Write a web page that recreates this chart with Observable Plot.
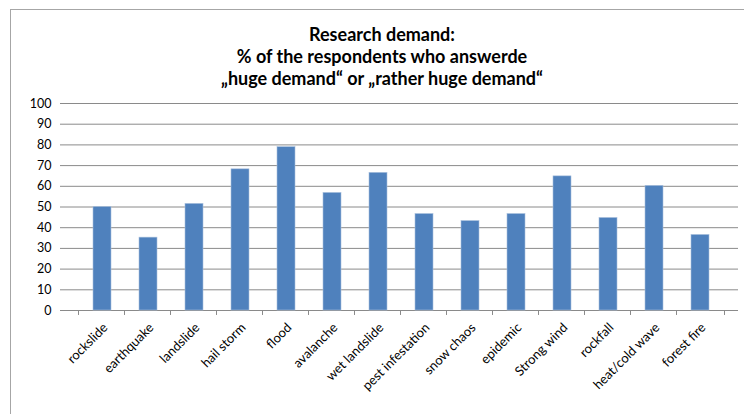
<!DOCTYPE html>
<html>
<head>
<meta charset="utf-8">
<script src="https://cdn.jsdelivr.net/npm/d3@7"></script>
<script src="https://cdn.jsdelivr.net/npm/@observablehq/plot@0.6"></script>
<style>
  html, body { margin: 0; padding: 0; background: #fff; }
  #chart svg { display: block; }
</style>
</head>
<body>
<div id="chart"></div>
<script>
const categories = ["rockslide", "earthquake", "landslide", "hail storm", "flood", "avalanche", "wet landslide", "pest infestation", "snow chaos", "epidemic", "Strong wind", "rockfall", "heat/cold wave", "forest fire"];
const values = [50.0, 35.2, 51.5, 68.2, 78.9, 56.8, 66.5, 46.6, 43.2, 46.6, 64.8, 44.7, 60.2, 36.5];
const yTicks = [0, 10, 20, 30, 40, 50, 60, 70, 80, 90, 100];
const titleLines = ["Research demand:", "% of the respondents who answerde", "\u201Ehuge demand\u201C or \u201Erather huge demand\u201C"];

const data = categories.map((c, i) => ({category: c, value: values[i]}));
const font = "Lato, 'Open Sans', sans-serif";
const titleDy = [-75, -53, -31];

const chart = Plot.plot({
  width: 744,
  height: 414,
  marginLeft: 65,
  marginRight: 6,
  marginTop: 103,
  marginBottom: 104,
  style: {fontFamily: font, fontSize: "12px", color: "#000", background: "#fff"},
  x: {type: "band", domain: categories, padding: 0.6, axis: null},
  y: {domain: [0, 100], axis: null},
  marks: [
    Plot.ruleY(yTicks, {stroke: "#8a8a8a", strokeWidth: 1}),
    Plot.barY(data, {x: "category", y: "value", fill: "#4f81bd", stroke: "#a9c0dd", strokeWidth: 0.6}),
    Plot.axisY(yTicks, {anchor: "left", tickSize: 5, tickPadding: 9, stroke: "#8a8a8a", fill: "#000", fontSize: 12.5, label: null}),
    Plot.ruleX([0], {stroke: "#8a8a8a"}),
    // category boundary ticks below the axis
    Plot.ruleX(categories, {x: d => d, dx: -24, y1: 0, y2: -2.4, stroke: "#8a8a8a"}),
    Plot.ruleX([categories[categories.length - 1]], {x: d => d, dx: 24, y1: 0, y2: -2.4, stroke: "#8a8a8a"}),
    Plot.axisX(categories, {anchor: "bottom", tickSize: 0, tickRotate: -45, tickPadding: 15, fill: "#000", fontSize: 13, label: null, dx: 3}),
    ...titleLines.map((line, i) => Plot.text([line], {
      text: d => d, frameAnchor: "top", dx: -20, dy: titleDy[i],
      fontWeight: "bold", fontSize: 18, fill: "#000"
    }))
  ]
});

// outer frame like the spreadsheet chart area border
const svg = d3.select(chart);
svg.insert("rect", ":first-child")
  .attr("x", 10.5).attr("y", 9.5).attr("width", 760).attr("height", 420)
  .attr("fill", "none").attr("stroke", "#a6a6a6");

document.getElementById("chart").appendChild(chart);
</script>
</body>
</html>
